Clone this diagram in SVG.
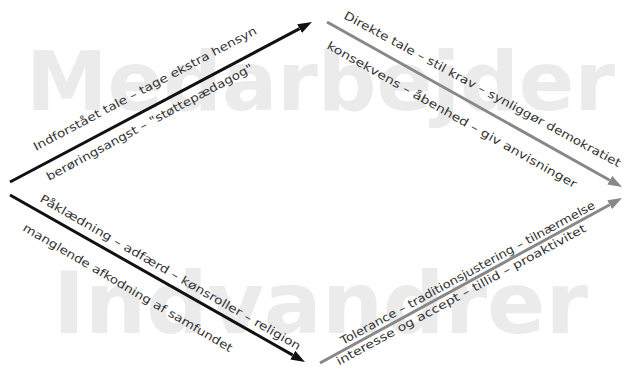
<svg xmlns="http://www.w3.org/2000/svg" width="625" height="367" viewBox="0 0 625 367">
<style>
.wm{font-family:"DejaVu Sans","Verdana",sans-serif;font-weight:bold;fill:#ebebeb}
.lbl{font-family:"DejaVu Sans","Verdana",sans-serif;font-size:11.5px;fill:#333}
.blk{stroke:#111;stroke-width:3;fill:none}
.gry{stroke:#888;stroke-width:3;fill:none}
</style>
<defs>
<marker id="ahB" markerUnits="userSpaceOnUse" markerWidth="14" markerHeight="10" refX="0" refY="5" orient="auto"><path d="M0,0 L14,5 L0,10 z" fill="#111"/></marker>
<marker id="ahG" markerUnits="userSpaceOnUse" markerWidth="14" markerHeight="10" refX="0" refY="5" orient="auto"><path d="M0,0 L14,5 L0,10 z" fill="#888"/></marker>
</defs>
<rect width="625" height="367" fill="#fff"/>
<g id="watermarks">
<text class="wm" x="26" y="110" font-size="82">Medarbejder</text>
<text class="wm" x="53" y="333" font-size="86">Indvandrer</text>
</g>
<g id="connectors">
<line class="blk" x1="10" y1="182" x2="299.6" y2="28.6" marker-end="url(#ahB)"/>
<line class="blk" x1="10" y1="195" x2="292.8" y2="355.1" marker-end="url(#ahB)"/>
<line class="gry" x1="327" y1="22" x2="609.8" y2="180.2" marker-end="url(#ahG)"/>
<line class="gry" x1="320" y1="363" x2="609.7" y2="204.7" marker-end="url(#ahG)"/>
</g>
<g id="labels">
<text class="lbl" transform="translate(36,151) rotate(-28)" textLength="251" lengthAdjust="spacingAndGlyphs">Indforstået tale – tage ekstra hensyn</text>
<text class="lbl" transform="translate(49,181) rotate(-28.4)" textLength="233" lengthAdjust="spacingAndGlyphs">berøringsangst – "støttepædagog"</text>
<text class="lbl" transform="translate(343,18) rotate(28.5)" textLength="313" lengthAdjust="spacingAndGlyphs">Direkte tale – stil krav – synliggør demokratiet</text>
<text class="lbl" transform="translate(326,48) rotate(29.5)" textLength="285" lengthAdjust="spacingAndGlyphs">konsekvens – åbenhed – giv anvisninger</text>
<text class="lbl" transform="translate(39,201) rotate(30)" textLength="299" lengthAdjust="spacingAndGlyphs">Påklædning – adfærd – kønsroller – religion</text>
<text class="lbl" transform="translate(22,230) rotate(30.5)" textLength="241" lengthAdjust="spacingAndGlyphs">manglende afkodning af samfundet</text>
<text class="lbl" transform="translate(343,345) rotate(-28.5)" textLength="288" lengthAdjust="spacingAndGlyphs">Tolerance – traditionsjustering – tilnærmelse</text>
<text class="lbl" transform="translate(339,365.5) rotate(-28.5)" textLength="282" lengthAdjust="spacingAndGlyphs">interesse og accept – tillid – proaktivitet</text>
</g>
</svg>
